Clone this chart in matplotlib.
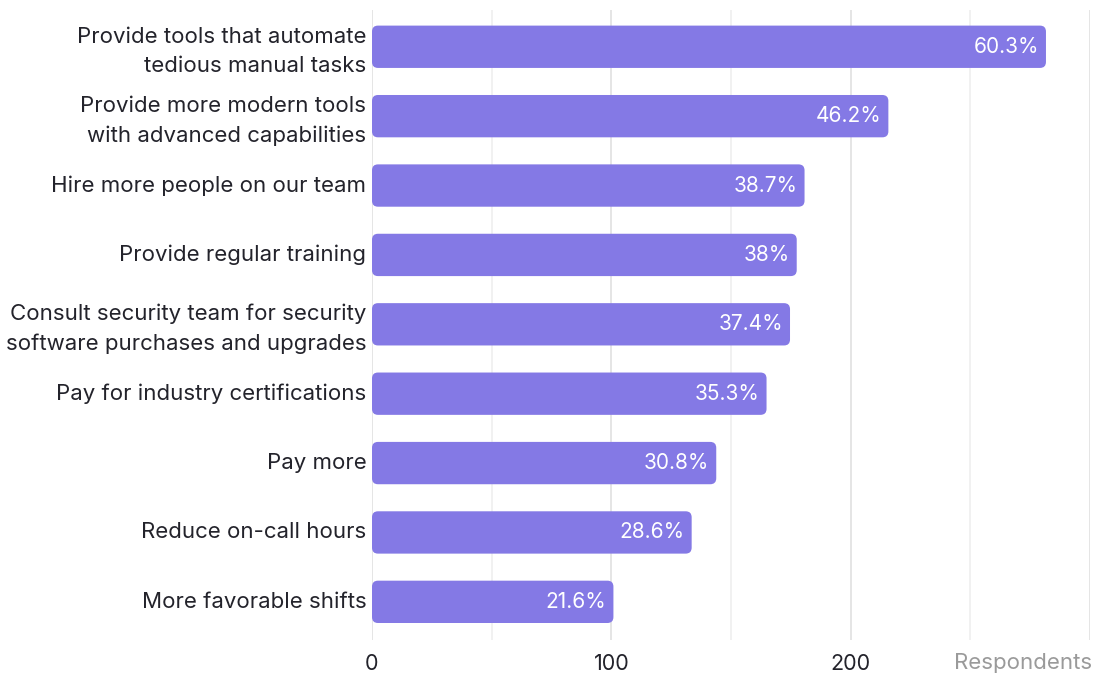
import matplotlib
matplotlib.use("Agg")
import matplotlib.pyplot as plt
from matplotlib.patches import FancyBboxPatch
from matplotlib.transforms import ScaledTranslation

categories = [
    "Provide tools that automate\ntedious manual tasks",
    "Provide more modern tools\nwith advanced capabilities",
    "Hire more people on our team",
    "Provide regular training",
    "Consult security team for security\nsoftware purchases and upgrades",
    "Pay for industry certifications",
    "Pay more",
    "Reduce on-call hours",
    "More favorable shifts",
]
percentages = [60.3, 46.2, 38.7, 38.0, 37.4, 35.3, 30.8, 28.6, 21.6]
total_respondents = 467
respondents = [p * total_respondents / 100 for p in percentages]
pct_labels = ["60.3%", "46.2%", "38.7%", "38%", "37.4%", "35.3%", "30.8%", "28.6%", "21.6%"]
x_ticks = [0, 100, 200]

BAR_COLOR = "#8479E5"
TEXT_COLOR = "#23232b"
FONT = "Inter"

W, H, DPI = 1098, 679, 100
fig = plt.figure(figsize=(W / DPI, H / DPI), dpi=DPI)
ax_left, ax_right, ax_top, ax_bottom = 372, 1090, 10, 640
ax = fig.add_axes([ax_left / W, 1 - ax_bottom / H, (ax_right - ax_left) / W, (ax_bottom - ax_top) / H])

xmax = 300
ymin, ymax = -0.53, len(categories) - 1 + 0.55
ax.set_xlim(0, xmax)
ax.set_ylim(ymax, ymin)

# grid: darker every 100, lighter at the halves
for gx in range(0, xmax + 1, 50):
    ax.axvline(gx, color="#e0e0e0" if gx % 100 == 0 else "#efefef", lw=1.2, zorder=0)

# rounded bars, with rounding corrected for the non-square data aspect
px_w = ax_right - ax_left
px_h = ax_bottom - ax_top
x_per_px = xmax / px_w
y_per_px = (ymax - ymin) / px_h
radius_px = 6
bar_h = 0.61
for i, v in enumerate(respondents):
    patch = FancyBboxPatch(
        (0, i - bar_h / 2), v, bar_h,
        boxstyle=f"round,pad=0,rounding_size={radius_px * x_per_px}",
        mutation_aspect=y_per_px / x_per_px,
        facecolor=BAR_COLOR, edgecolor="none", zorder=2,
    )
    ax.add_patch(patch)
    ax.text(v - 7 * x_per_px, i, pct_labels[i], color="white", ha="right", va="center",
            fontsize=15, family=FONT, zorder=3)

ax.set_yticks(range(len(categories)))
ax.set_yticklabels(categories, fontsize=16, family=FONT, color=TEXT_COLOR, linespacing=1.58)
ax.tick_params(axis="y", length=0, pad=4)
nudge = ScaledTranslation(0, 2 / DPI, fig.dpi_scale_trans)
for lbl in ax.get_yticklabels():
    lbl.set_transform(lbl.get_transform() + nudge)
ax.set_xticks(x_ticks)
ax.set_xticklabels([str(t) for t in x_ticks], fontsize=15.5, family=FONT, color=TEXT_COLOR)
ax.tick_params(axis="x", length=0, pad=10)
for s in ax.spines.values():
    s.set_visible(False)

fig.text(1092 / W, 1 - 663 / H, "Respondents", ha="right", va="center",
         fontsize=16, family=FONT, color="#9a9a9a")

fig.savefig("out.png", dpi=DPI)
